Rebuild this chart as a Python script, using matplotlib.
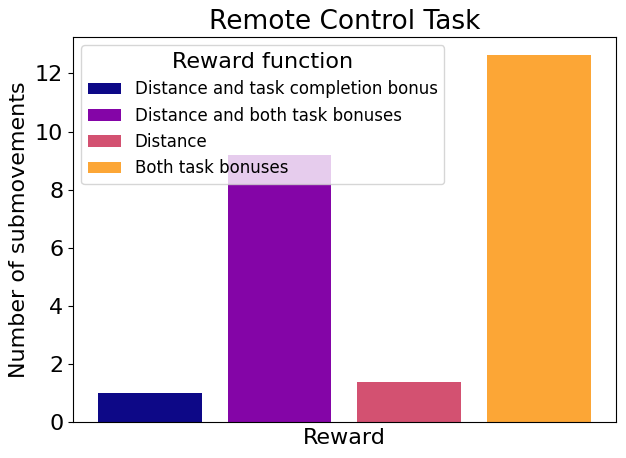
import matplotlib
matplotlib.use('Agg')
import matplotlib.pyplot as plt
import numpy as np

labels = ['Distance and task completion bonus', 'Distance and both task bonuses',
          'Distance', 'Both task bonuses']
values = [1.0, 9.2, 1.38, 12.62]


def main():
    colors = plt.cm.plasma(np.linspace(0, 0.8, len(values)))
    fig, ax = plt.subplots(figsize=(6.26, 4.58), dpi=100)
    for i, (lab, v) in enumerate(zip(labels, values)):
        ax.bar(i, v, width=0.8, color=colors[i], label=lab)
    ax.set_xticks([])
    ax.set_xlabel('Reward', fontsize=16, labelpad=4)
    ax.set_ylabel('Number of submovements', fontsize=16)
    ax.set_title('Remote Control Task', fontsize=19)
    ax.tick_params(axis='y', labelsize=16)
    ax.legend(title='Reward function', fontsize=12, title_fontsize=16, loc='upper left')
    fig.subplots_adjust(left=0.1166, right=0.984, top=0.919, bottom=0.0786)
    fig.savefig('out.png', dpi=100)


if __name__ == "__main__":
    main()
